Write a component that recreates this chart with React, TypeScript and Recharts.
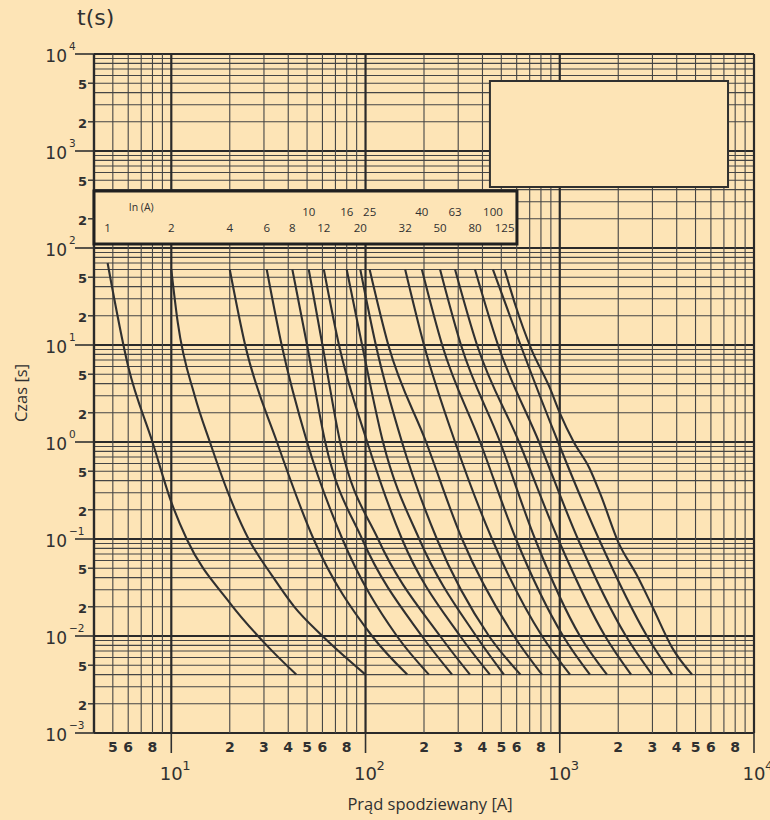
import React from "react";
import {
  LineChart,
  Line,
  XAxis,
  YAxis,
  ReferenceLine,
  ReferenceArea,
  ReferenceDot,
} from "recharts";

const BG = "#fde4b6";
const INK = "#303030";

// fuse ratings In (A)
const ratings = ["1", "2", "4", "6", "8", "10", "12", "16", "20", "25", "32", "40", "50", "63", "80", "100", "125"];
const topRowRatings = ["10", "16", "25", "40", "63", "100"];

// prospective current [A] / time [s]
const c1_I = [4.7, 6, 8, 10, 12, 20, 31, 44];
const c1_t = [70, 6, 1, 0.24, 0.1, 0.022, 0.008, 0.004];
const c2_I = [10, 10.8, 13.2, 15.8, 19.6, 25, 33, 43, 60, 100];
const c2_t = [60, 17, 3, 1, 0.3, 0.1, 0.042, 0.02, 0.01, 0.004];
const tLevels = [60, 10, 1, 0.1, 0.01, 0.004];
const c4_I = [20, 24, 35, 54, 108, 164];
const c6_I = [31, 37, 50, 76, 145, 212];
const c8_I = [42, 50, 62, 96, 195, 279];
const c10_I = [51, 60, 74, 116, 242, 345];
const c12_I = [61, 73, 102, 154, 307, 437];
const c16_I = [80, 96, 123, 189, 371, 516];
const c20_I = [94, 113, 154, 233, 432, 628];
const c25_I = [105, 131, 205, 314, 581, 810];
const c32_I = [160, 200, 289, 448, 810, 1130];
const c40_I = [195, 248, 389, 595, 1040, 1430];
const c50_I = [242, 310, 493, 746, 1270, 1750];
const c63_I = [289, 375, 617, 980, 1710, 2330];
const c80_I = [366, 481, 782, 1240, 2190, 2990];
const c100_I = [453, 628, 980, 1590, 2810, 3790];
const c125_I = [520, 590, 710, 890, 1000, 1180, 1420, 1630, 2000, 2500, 3000, 3800, 4800];
const c125_t = [60, 26, 9.3, 3.6, 2, 1, 0.54, 0.28, 0.093, 0.042, 0.02, 0.0075, 0.004];

const curveI = [c1_I, c2_I, c4_I, c6_I, c8_I, c10_I, c12_I, c16_I, c20_I, c25_I, c32_I, c40_I, c50_I, c63_I, c80_I, c100_I, c125_I];
const curveT = [c1_t, c2_t, tLevels, tLevels, tLevels, tLevels, tLevels, tLevels, tLevels, tLevels, tLevels, tLevels, tLevels, tLevels, tLevels, tLevels, c125_t];

const xTicks = [5, 6, 8, 10, 20, 30, 40, 50, 60, 80, 100, 200, 300, 400, 500, 600, 800, 1000, 2000, 3000, 4000, 5000, 6000, 8000, 10000];
const yTicks = [0.001, 0.002, 0.005, 0.01, 0.02, 0.05, 0.1, 0.2, 0.5, 1, 2, 5, 10, 20, 50, 100, 200, 500, 1000, 2000, 5000, 10000];

const curves = ratings.map((name, k) => ({
  name,
  data: curveI[k].map((i, j) => ({ i, t: curveT[k][j] })),
}));

// log paper grid: 1..9 in every decade
const gridX: number[] = [];
for (let e = 0; e <= 3; e++) for (let m = 1; m <= 9; m++) if (m * 10 ** e >= 4) gridX.push(m * 10 ** e);
gridX.push(10000);
const gridY: number[] = [];
for (let e = -3; e <= 3; e++) for (let m = 1; m <= 9; m++) gridY.push(+(m * 10 ** e).toPrecision(3));
gridY.push(10000);

const split = (v: number) => {
  const e = Math.floor(Math.log10(v) + 1e-9);
  return { e, m: Math.round(v / 10 ** e) };
};
const expText = (e: number) => (e < 0 ? "\u2212" + -e : String(e));

const YTick = ({ x, y, payload }: any) => {
  const { e, m } = split(payload.value);
  if (m === 1) {
    return (
      <g>
        <line x1={x - 19} x2={x} y1={y} y2={y} stroke={INK} strokeWidth={1.6} />
        <text x={x - 27} y={y + 7.5} textAnchor="end" fontSize={17} fill={INK}>10</text>
        <text x={x - 25} y={y - 4} fontSize={10.5} fill={INK}>{expText(e)}</text>
      </g>
    );
  }
  return (
    <g>
      <line x1={x - 6} x2={x} y1={y} y2={y} stroke={INK} strokeWidth={1.4} />
      <text x={x - 7} y={y + 6} textAnchor="end" fontSize={13} fontWeight="bold" fill={INK}>{m}</text>
    </g>
  );
};

const XTick = ({ x, y, payload }: any) => {
  const { e, m } = split(payload.value);
  if (m === 1) {
    return (
      <g>
        <line x1={x} x2={x} y1={y} y2={y + 20} stroke={INK} strokeWidth={1.6} />
        <text x={x} y={y + 47} textAnchor="middle" fontSize={18} fill={INK}>10</text>
        <text x={x + 11} y={y + 37} fontSize={13} fill={INK}>{expText(e)}</text>
      </g>
    );
  }
  return (
    <text x={x} y={y + 19} textAnchor="middle" fontSize={14} fontWeight="bold" fill={INK}>{m}</text>
  );
};

const boxLabel = (text: string, size: number) => (p: any) => (
  <text x={p.cx} y={p.cy} textAnchor="middle" dominantBaseline="central" fontSize={size} fill={INK} fontFamily="'Open Sans', sans-serif">
    {text}
  </text>
);

export default function App() {
  return (
    <div
      style={{
        position: "absolute",
        left: 0,
        top: 0,
        width: 770,
        height: 820,
        background: BG,
        overflow: "hidden",
        fontFamily: "'DejaVu Sans', sans-serif",
      }}
    >
      <div style={{ position: "absolute", left: 77, top: 5, fontSize: 22, color: INK }}>t(s)</div>
      <div
        style={{
          position: "absolute",
          left: 20,
          top: 393,
          transform: "translate(-50%, -50%) rotate(-90deg)",
          fontSize: 16.5,
          color: INK,
          fontFamily: "'Open Sans', sans-serif",
          whiteSpace: "nowrap",
        }}
      >
        Czas [s]
      </div>
      <div
        style={{
          position: "absolute",
          left: 430,
          top: 803,
          transform: "translate(-50%, -50%)",
          fontSize: 16.5,
          color: INK,
          fontFamily: "'Open Sans', sans-serif",
          whiteSpace: "nowrap",
        }}
      >
        Prąd spodziewany [A]
      </div>
      <LineChart width={770} height={820} margin={{ top: 54, right: 16, bottom: 27, left: 0 }}>
        <XAxis
          type="number"
          dataKey="i"
          scale="log"
          domain={[4, 10000]}
          allowDataOverflow
          ticks={xTicks}
          interval={0}
          tick={<XTick />}
          tickLine={false}
          axisLine={false}
          tickSize={0}
          tickMargin={0}
          height={60}
        />
        <YAxis
          type="number"
          dataKey="t"
          scale="log"
          domain={[0.001, 10000]}
          allowDataOverflow
          ticks={yTicks}
          interval={0}
          tick={<YTick />}
          tickLine={false}
          axisLine={false}
          tickSize={0}
          tickMargin={0}
          width={94}
        />
        {gridY.map((v) => {
          const major = split(v).m === 1;
          return (
            <ReferenceLine key={"h" + v} y={v} zIndex={50} stroke={major ? "#2a2a2a" : "#454545"} strokeWidth={major ? 2.2 : 1.1} />
          );
        })}
        {[4, ...gridX].map((v) => {
          const major = v === 4 || split(v).m === 1;
          return (
            <ReferenceLine key={"v" + v} x={v} zIndex={50} stroke={major ? "#2a2a2a" : "#454545"} strokeWidth={major ? 2.2 : 1.1} />
          );
        })}
        {curves.map((c) => (
          <Line
            key={c.name}
            data={c.data}
            dataKey="t"
            type="monotone"
            stroke={INK}
            strokeWidth={2.1}
            dot={false}
            isAnimationActive={false}
          />
        ))}
        <ReferenceArea x1={4} x2={602} y1={110} y2={387} zIndex={900} fill={BG} fillOpacity={1} stroke="#202020" strokeWidth={3} ifOverflow="visible" />
        <ReferenceArea x1={437} x2={7350} y1={425} y2={5270} zIndex={900} fill={BG} fillOpacity={1} stroke="#303030" strokeWidth={2} ifOverflow="visible" />
        <ReferenceDot x={7} y={265} r={0} zIndex={1000} shape={boxLabel("In (A)", 10.5)} />
        {curves.map((c) => (
          <ReferenceDot
            key={"l" + c.name}
            x={c.data[0].i}
            y={topRowRatings.includes(c.name) ? 240 : 161}
            r={0}
            zIndex={1000}
            shape={boxLabel(c.name, 11.5)}
          />
        ))}
      </LineChart>
    </div>
  );
}
